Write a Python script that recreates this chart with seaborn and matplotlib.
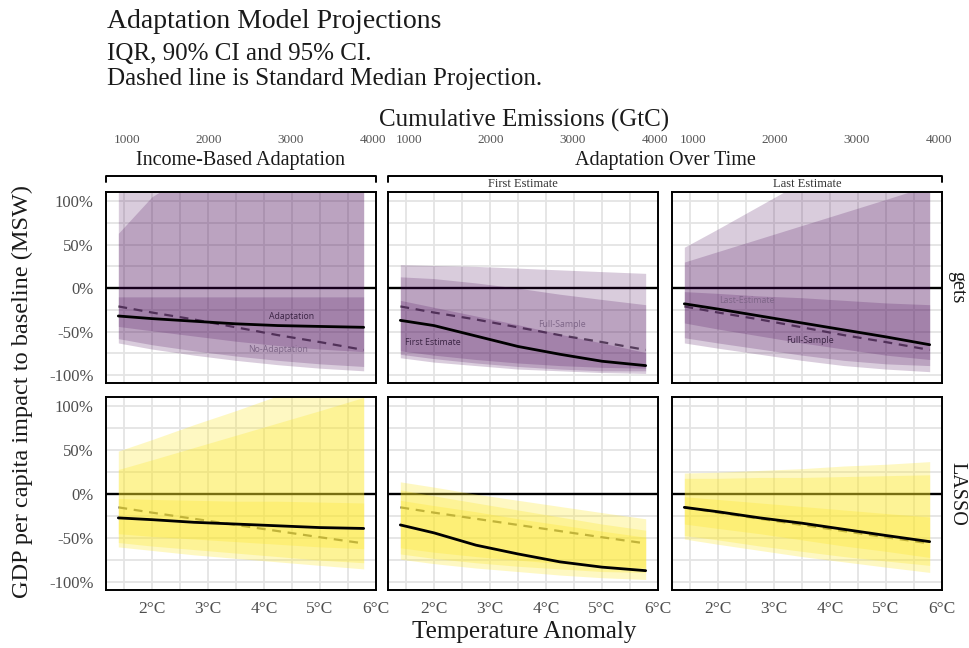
import matplotlib
matplotlib.use("Agg")
import matplotlib.pyplot as plt
from matplotlib.lines import Line2D
import pandas as pd
import seaborn as sns

# ---------------------------------------------------------------------------
# Data: median projections and uncertainty ribbons (share of baseline GDP)
# ---------------------------------------------------------------------------
TEMP = [1.4, 2.0, 2.75, 3.5, 4.25, 5.0, 5.78]          # temperature anomaly, degC

ROW_NAMES = ["gets", "LASSO"]
PANEL_NAMES = ["Income-Based Adaptation", "First Estimate", "Last Estimate"]
GROUP_NAMES = ["Income-Based Adaptation", "Adaptation Over Time"]

# Standard (no-adaptation / full-sample) median projection per selection method
GETS_STANDARD = [-0.21, -0.28, -0.36, -0.45, -0.54, -0.62, -0.71]
LASSO_STANDARD = [-0.15, -0.21, -0.28, -0.35, -0.42, -0.49, -0.56]

# gets - income-based adaptation
GETS_INCOME_MED = [-0.32, -0.35, -0.38, -0.41, -0.43, -0.44, -0.45]
GETS_INCOME_95 = ([-0.63, -0.70, -0.77, -0.83, -0.88, -0.92, -0.95],
                  [1.30, 1.40, 1.50, 1.60, 1.70, 1.80, 1.90])
GETS_INCOME_90 = ([-0.58, -0.65, -0.72, -0.78, -0.83, -0.87, -0.90],
                  [0.63, 1.05, 1.35, 1.50, 1.60, 1.70, 1.80])
GETS_INCOME_IQR = ([-0.44, -0.49, -0.55, -0.61, -0.66, -0.70, -0.73],
                   [-0.10, -0.10, -0.10, -0.10, -0.10, -0.10, -0.10])

# gets - adaptation over time, first estimate
GETS_FIRST_MED = [-0.37, -0.43, -0.55, -0.67, -0.76, -0.84, -0.89]
GETS_FIRST_95 = ([-0.80, -0.85, -0.89, -0.93, -0.95, -0.97, -0.98],
                 [0.27, 0.26, 0.25, 0.23, 0.21, 0.19, 0.17])
GETS_FIRST_90 = ([-0.76, -0.81, -0.86, -0.90, -0.93, -0.95, -0.95],
                 [0.13, 0.11, 0.06, 0.00, -0.07, -0.13, -0.19])
GETS_FIRST_IQR = ([-0.72, -0.77, -0.82, -0.86, -0.89, -0.91, -0.92],
                  [-0.14, -0.22, -0.32, -0.42, -0.53, -0.63, -0.74])

# gets - adaptation over time, last estimate
GETS_LAST_MED = [-0.18, -0.24, -0.32, -0.40, -0.48, -0.56, -0.65]
GETS_LAST_95 = ([-0.63, -0.69, -0.76, -0.83, -0.89, -0.93, -0.96],
                [0.47, 0.68, 0.95, 1.22, 1.50, 1.76, 2.00])
GETS_LAST_90 = ([-0.57, -0.63, -0.70, -0.77, -0.83, -0.87, -0.89],
                [0.30, 0.42, 0.57, 0.72, 0.87, 1.02, 1.18])
GETS_LAST_IQR = ([-0.40, -0.47, -0.55, -0.63, -0.70, -0.77, -0.82],
                 [-0.04, -0.06, -0.09, -0.11, -0.14, -0.17, -0.19])

# LASSO - income-based adaptation
LASSO_INCOME_MED = [-0.27, -0.29, -0.32, -0.34, -0.36, -0.38, -0.39]
LASSO_INCOME_95 = ([-0.60, -0.64, -0.69, -0.73, -0.77, -0.81, -0.85],
                   [0.49, 0.62, 0.79, 0.95, 1.12, 1.28, 1.45])
LASSO_INCOME_90 = ([-0.55, -0.59, -0.63, -0.67, -0.71, -0.75, -0.78],
                   [0.28, 0.39, 0.53, 0.67, 0.81, 0.95, 1.10])
LASSO_INCOME_IQR = ([-0.45, -0.48, -0.51, -0.54, -0.57, -0.60, -0.62],
                    [-0.05, -0.06, -0.07, -0.08, -0.08, -0.09, -0.10])

# LASSO - adaptation over time, first estimate
LASSO_FIRST_MED = [-0.35, -0.44, -0.58, -0.68, -0.77, -0.83, -0.87]
LASSO_FIRST_95 = ([-0.74, -0.79, -0.84, -0.88, -0.92, -0.95, -0.97],
                  [0.14, 0.08, 0.00, -0.07, -0.14, -0.21, -0.28])
LASSO_FIRST_90 = ([-0.68, -0.73, -0.78, -0.82, -0.85, -0.88, -0.89],
                  [0.05, -0.02, -0.10, -0.18, -0.26, -0.34, -0.41])
LASSO_FIRST_IQR = ([-0.61, -0.66, -0.71, -0.75, -0.79, -0.82, -0.84],
                   [-0.07, -0.13, -0.20, -0.28, -0.35, -0.42, -0.49])

# LASSO - adaptation over time, last estimate
LASSO_LAST_MED = [-0.15, -0.20, -0.27, -0.33, -0.40, -0.47, -0.54]
LASSO_LAST_95 = ([-0.51, -0.57, -0.64, -0.71, -0.77, -0.83, -0.89],
                 [0.24, 0.25, 0.27, 0.29, 0.32, 0.34, 0.37])
LASSO_LAST_90 = ([-0.47, -0.52, -0.59, -0.65, -0.71, -0.76, -0.81],
                 [0.18, 0.18, 0.19, 0.19, 0.20, 0.21, 0.22])
LASSO_LAST_IQR = ([-0.34, -0.39, -0.45, -0.52, -0.59, -0.65, -0.72],
                  [-0.03, -0.06, -0.10, -0.14, -0.18, -0.22, -0.26])

# Tick labels
X_TICKS = [2, 3, 4, 5, 6]
X_TICK_LABELS = ["2°C", "3°C", "4°C", "5°C", "6°C"]
Y_TICKS = [-1.0, -0.5, 0.0, 0.5, 1.0]
Y_TICK_LABELS = ["-100%", "-50%", "0%", "50%", "100%"]
EMISSION_TICKS = [1000, 2000, 3000, 4000]

# In-panel curve annotations: (row, col, text, temp, value, tone)
CURVE_NOTES = [
    (0, 0, "Adaptation", 4.49, -0.33, "dark"),
    (0, 0, "No-Adaptation", 4.26, -0.70, "light"),
    (0, 1, "Full-Sample", 4.28, -0.42, "light"),
    (0, 1, "First Estimate", 1.99, -0.63, "dark"),
    (0, 2, "Last-Estimate", 2.51, -0.14, "light"),
    (0, 2, "Full-Sample", 3.64, -0.60, "dark"),
]

# ---------------------------------------------------------------------------
# Tidy table for plotting
# ---------------------------------------------------------------------------
PANEL_SERIES = {
    (0, 0): (GETS_INCOME_MED, GETS_STANDARD, [GETS_INCOME_95, GETS_INCOME_90, GETS_INCOME_IQR]),
    (0, 1): (GETS_FIRST_MED, GETS_STANDARD, [GETS_FIRST_95, GETS_FIRST_90, GETS_FIRST_IQR]),
    (0, 2): (GETS_LAST_MED, GETS_STANDARD, [GETS_LAST_95, GETS_LAST_90, GETS_LAST_IQR]),
    (1, 0): (LASSO_INCOME_MED, LASSO_STANDARD, [LASSO_INCOME_95, LASSO_INCOME_90, LASSO_INCOME_IQR]),
    (1, 1): (LASSO_FIRST_MED, LASSO_STANDARD, [LASSO_FIRST_95, LASSO_FIRST_90, LASSO_FIRST_IQR]),
    (1, 2): (LASSO_LAST_MED, LASSO_STANDARD, [LASSO_LAST_95, LASSO_LAST_90, LASSO_LAST_IQR]),
}
BAND_NAMES = ["95% CI", "90% CI", "IQR"]

records = []
for (r, c), (med, std, bands) in PANEL_SERIES.items():
    for i, t in enumerate(TEMP):
        rec = {"method": ROW_NAMES[r], "panel": PANEL_NAMES[c], "temp": t,
               "median": med[i], "standard": std[i]}
        for name, (lo, hi) in zip(BAND_NAMES, bands):
            rec[name + " lo"] = lo[i]
            rec[name + " hi"] = hi[i]
        records.append(rec)
df = pd.DataFrame(records)

# ---------------------------------------------------------------------------
# Styling
# ---------------------------------------------------------------------------
sns.set_theme(style="whitegrid")
plt.rcParams["font.family"] = ["Liberation Serif", "DejaVu Serif"]
SANS = ["Open Sans", "DejaVu Sans"]

ROW_COLORS = ["#440154", "#FDE725"]
ROW_ALPHA = [0.20, 0.28]
NOTE_COLORS = {"dark": "#3b2444", "light": "#7e6688"}
GRID_COLOR = "#e4e4e4"
TICK_GRAY = "#4d4d4d"
TEXT = "#1a1a1a"

W, H = 970, 648
PANEL_X = [(106, 376), (388, 658), (672, 942)]
PANEL_Y = [(192, 383), (397, 590)]
XLIM = (1.18, 6.0)
YLIM = (-1.09, 1.105)


def fx(px):
    return px / W


def fy(py):
    return 1 - py / H


def temp_to_emis(t):
    return 1000 + (t - 1.554) / 1.464 * 1000


def emis_to_temp(e):
    return 1.554 + (e - 1000) * 1.464 / 1000


fig = plt.figure(figsize=(9.7, 6.48), dpi=100)

for r in range(2):
    for c in range(3):
        x0, x1 = PANEL_X[c]
        y0, y1 = PANEL_Y[r]
        ax = fig.add_axes([fx(x0), fy(y1), (x1 - x0) / W, (y1 - y0) / H])
        sub = df[(df["method"] == ROW_NAMES[r]) & (df["panel"] == PANEL_NAMES[c])]

        ax.axhline(0, color="black", lw=1.7, zorder=1.5)
        sns.lineplot(data=sub, x="temp", y="standard", ax=ax, color="#606060",
                     lw=1.6, linestyle=(0, (4, 3)), zorder=1.8)
        for name in BAND_NAMES:
            ax.fill_between(sub["temp"], sub[name + " lo"], sub[name + " hi"],
                            color=ROW_COLORS[r], alpha=ROW_ALPHA[r], lw=0, zorder=2)
        sns.lineplot(data=sub, x="temp", y="median", ax=ax, color="black",
                     lw=2.0, zorder=4)

        ax.set_xlim(*XLIM)
        ax.set_ylim(*YLIM)
        ax.set_xticks(X_TICKS)
        ax.set_xticks([1.5, 2.5, 3.5, 4.5, 5.5], minor=True)
        ax.set_yticks(Y_TICKS)
        ax.set_yticks([-0.75, -0.25, 0.25, 0.75], minor=True)
        ax.grid(which="both", color=GRID_COLOR, lw=1.3)
        ax.set_axisbelow(True)
        ax.set_xlabel("")
        ax.set_ylabel("")
        ax.tick_params(which="both", length=0)
        if r == 1:
            ax.set_xticklabels(X_TICK_LABELS, fontsize=12.5, color=TICK_GRAY)
            ax.tick_params(axis="x", pad=8)
        else:
            ax.set_xticklabels([])
        if c == 0:
            ax.set_yticklabels(Y_TICK_LABELS, fontsize=12, color=TICK_GRAY)
            ax.tick_params(axis="y", pad=9)
        else:
            ax.set_yticklabels([])
        for sp in ax.spines.values():
            sp.set_visible(True)
            sp.set_color("black")
            sp.set_linewidth(1.4)
            sp.set_zorder(6)

        if r == 0:
            sec = ax.secondary_xaxis((y1 - 146) / (y1 - y0),
                                     functions=(temp_to_emis, emis_to_temp))
            sec.set_xticks(EMISSION_TICKS)
            sec.tick_params(length=0, pad=0, labelsize=9.5, colors="#555555")
            for sp in sec.spines.values():
                sp.set_visible(False)

        for (nr, nc, txt, t, v, tone) in CURVE_NOTES:
            if nr == r and nc == c:
                ax.text(t, v, txt, ha="center", va="center", fontsize=6.3,
                        family=SANS, color=NOTE_COLORS[tone], zorder=5)

# Titles
fig.text(fx(107), fy(28), "Adaptation Model Projections", ha="left", va="baseline",
         fontsize=20, color=TEXT)
fig.text(fx(107), fy(60), "IQR, 90% CI and 95% CI.", ha="left", va="baseline",
         fontsize=18, color=TEXT)
fig.text(fx(107), fy(85), "Dashed line is Standard Median Projection.", ha="left",
         va="baseline", fontsize=18, color=TEXT)
fig.text(fx(524), fy(120), "Cumulative Emissions (GtC)", ha="center", va="center",
         fontsize=18, color=TEXT)
fig.text(fx(524), fy(632), "Temperature Anomaly", ha="center", va="center",
         fontsize=18, color=TEXT)
fig.text(fx(22), fy(391), "GDP per capita impact to baseline (MSW)", ha="center",
         va="center", rotation=90, fontsize=17.5, color=TEXT)

# Facet strips: grouped brackets on top, row labels on the right
brackets = [(GROUP_NAMES[0], 106, 376), (GROUP_NAMES[1], 388, 942)]
for name, bx0, bx1 in brackets:
    fig.text(fx((bx0 + bx1) / 2), fy(161), name, ha="center", va="center",
             fontsize=14.5, color=TEXT)
    fig.add_artist(Line2D([fx(bx0), fx(bx0), fx(bx1), fx(bx1)],
                          [fy(182), fy(176), fy(176), fy(182)],
                          transform=fig.transFigure, color="black", lw=1.4))
for c in (1, 2):
    fig.text(fx(sum(PANEL_X[c]) / 2), fy(184), PANEL_NAMES[c], ha="center",
             va="center", fontsize=9, color="#333333")
for r in range(2):
    fig.text(fx(957), fy(sum(PANEL_Y[r]) / 2), ROW_NAMES[r], ha="center",
             va="center", rotation=-90, fontsize=14.5, color=TEXT)

fig.savefig("out.png", dpi=100)
